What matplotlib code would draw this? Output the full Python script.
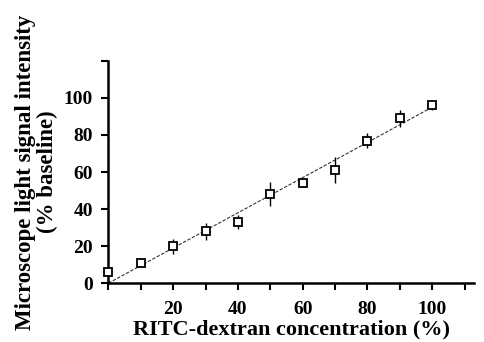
import numpy as np
import matplotlib
matplotlib.use('Agg')
import matplotlib.pyplot as plt

# data
conc = [0, 10, 20, 30, 40, 50, 60, 70, 80, 90, 100]
signal = [6, 11, 20, 28, 33, 48, 54, 61, 77, 89, 96]
err = [1.5, 1.5, 4, 4.5, 4, 6.5, 2, 7, 4, 4.5, 2.5]
fit_x = [0, 100]
fit_y = [0, 95]
xticks = [0, 10, 20, 30, 40, 50, 60, 70, 80, 90, 100, 110]
xticklabels = ['', '', '20', '', '40', '', '60', '', '80', '', '100', '']
yticks = [0, 20, 40, 60, 80, 100, 120]
yticklabels = ['0', '20', '40', '60', '80', '100', '']

plt.rcParams['font.family'] = ['Liberation Serif', 'DejaVu Serif']
plt.rcParams['font.weight'] = 'bold'

fig = plt.figure(figsize=(4.84, 3.42), dpi=100)
ax = fig.add_axes([0.224, 0.172, 0.756, 0.65])

ax.plot(fit_x, fit_y, color='#333333', lw=0.8, ls=(0, (3, 1.5)))
ax.errorbar(conc, signal, yerr=err, fmt='s', ms=6, mfc='white', mec='black',
            mew=1.3, ecolor='black', elinewidth=1.0, capsize=0, clip_on=False, zorder=3)

ax.set_xlim(0, 113)
ax.set_ylim(0, 120)
ax.set_xticks(xticks)
ax.set_xticklabels(xticklabels)
ax.set_yticks(yticks)
ax.set_yticklabels(yticklabels)
ax.tick_params(direction='out', length=5, width=1.5, labelsize=14)
ax.tick_params(axis='x', pad=8)
ax.tick_params(axis='y', pad=6)

for s in ['top', 'right']:
    ax.spines[s].set_visible(False)
for s in ['left', 'bottom']:
    ax.spines[s].set_linewidth(1.8)

ax.set_xlabel('RITC-dextran concentration (%)', fontsize=16, fontweight='bold', labelpad=1)
ax.set_ylabel('Microscope light signal intensity\n(% baseline)', fontsize=16.5,
              fontweight='bold', labelpad=4, linespacing=1.1)

fig.savefig('out.png', dpi=100)
